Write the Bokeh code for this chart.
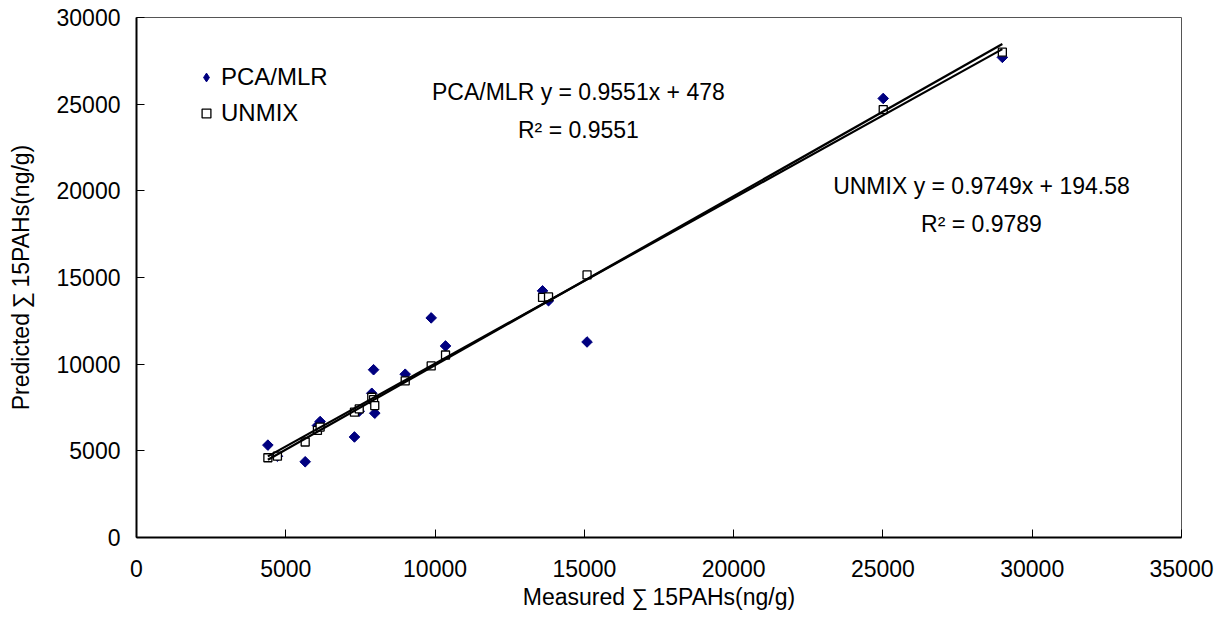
import math
from bokeh.plotting import figure
from bokeh.models import Range1d, FixedTicker, Legend, LegendItem, Label
from bokeh.embed import file_html
from bokeh.resources import INLINE

# ---- data ----
measured = [4400, 4720, 5650, 6060, 6150, 7300, 7460, 7880, 7940, 7980,
            9000, 9870, 10350, 13600, 13800, 15090, 25010, 29000]
pca_mlr = [5330, 4690, 4370, 6460, 6690, 5800, 7290, 8320, 9680, 7170,
           9420, 12670, 11050, 14230, 13660, 11280, 25330, 27700]
unmix = [4600, 4690, 5510, 6180, 6370, 7230, 7420, 8090, 7950, 7610,
         9040, 9900, 10530, 13850, 13880, 15150, 24690, 28000]

series_names = ["PCA/MLR", "UNMIX"]
pca_fit = (0.9551, 478.0)
unmix_fit = (0.9749, 194.58)
pca_eq = ["PCA/MLR y = 0.9551x + 478", "R\u00b2 = 0.9551"]
unmix_eq = ["UNMIX y = 0.9749x + 194.58", "R\u00b2 = 0.9789"]

x_ticks = [0, 5000, 10000, 15000, 20000, 25000, 30000, 35000]
y_ticks = [0, 5000, 10000, 15000, 20000, 25000, 30000]
x_title = "Measured \u2211\u200915PAHs(ng/g)"
y_title = "Predicted\u2009\u2211\u200915PAHs(ng/g)"

FONT = "Liberation Sans"
NAVY = "#000080"

p = figure(width=1215, height=616,
           x_range=Range1d(0, 35000), y_range=Range1d(0, 30000),
           output_backend="svg", toolbar_location=None,
           min_border_left=136, min_border_right=34,
           min_border_top=17, min_border_bottom=79)

p.xgrid.visible = False
p.ygrid.visible = False
p.outline_line_color = "#555555"
p.outline_line_width = 1
p.background_fill_color = "white"
p.border_fill_color = "white"

for ax, ticks in ((p.xaxis, x_ticks), (p.yaxis, y_ticks)):
    ax.ticker = FixedTicker(ticks=ticks)
    ax.minor_tick_line_color = None
    ax.major_tick_in = 8
    ax.major_tick_out = 0
    ax.major_tick_line_color = "black"
    ax.major_tick_line_width = 1
    ax.axis_line_color = "black"
    ax.axis_line_width = 2
    ax.major_label_text_font = FONT
    ax.major_label_text_font_size = "23px"
    ax.major_label_text_color = "black"
    ax.axis_label_text_font = FONT
    ax.axis_label_text_font_size = "23px"
    ax.axis_label_text_font_style = "normal"
    ax.axis_label_text_color = "black"

p.xaxis.axis_label = x_title
p.yaxis.axis_label = y_title
p.xaxis.major_label_standoff = 22
p.xaxis.axis_label_standoff = 4
p.yaxis.major_label_standoff = 16
p.yaxis.axis_label_standoff = 20

# PCA/MLR series: a narrow diamond key glyph hidden beneath the square diamonds
r_pca_key = p.scatter(measured, pca_mlr, marker="diamond", size=9,
                      fill_color=NAVY, line_color=NAVY)
r_pca = p.scatter(measured, pca_mlr, marker="square", angle=math.pi / 4,
                  size=7.5, fill_color=NAVY, line_color=NAVY)
r_unmix = p.scatter(measured, unmix, marker="square", size=8,
                    fill_color="white", line_color="black", line_width=1.3)

# trend lines (from the displayed equations)
def trend(xs, fit):
    x0, x1 = min(xs), max(xs)
    return [x0, x1], [fit[0] * x0 + fit[1], fit[0] * x1 + fit[1]]

lx, ly = trend(measured, pca_fit)
p.line(lx, ly, line_color="black", line_width=2.2)
lx, ly = trend(measured, unmix_fit)
p.line(lx, ly, line_color="black", line_width=2.2)

# equation labels
def add_eq(lines, xc, y1, y2):
    for txt, yy in zip(lines, (y1, y2)):
        p.add_layout(Label(x=xc, y=yy, text=txt, text_align="center",
                           text_baseline="middle", text_font=FONT,
                           text_font_size="23px", text_color="black"))

add_eq(pca_eq, 14800, 25700, 23530)
add_eq(unmix_eq, 28300, 20270, 18090)

legend = Legend(items=[LegendItem(label=series_names[0], renderers=[r_pca_key]),
                       LegendItem(label=series_names[1], renderers=[r_unmix])],
                location=(59, 408), padding=0, margin=0, spacing=3,
                glyph_width=22, glyph_height=22, label_height=33,
                label_standoff=4, label_text_font=FONT,
                label_text_font_size="24px", label_text_color="black",
                border_line_alpha=0, background_fill_alpha=0)
p.add_layout(legend)

open("out.html", "w").write(file_html(p, INLINE))
